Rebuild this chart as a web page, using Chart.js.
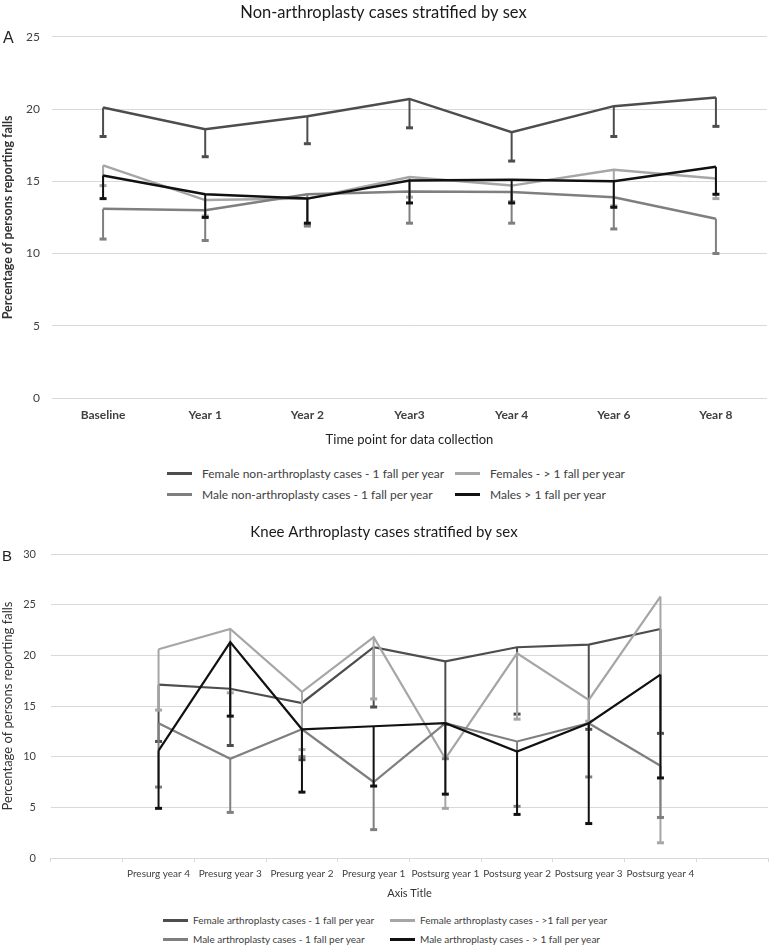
<!DOCTYPE html>
<html>
<head>
<meta charset="utf-8">
<title>Falls stratified by sex</title>
<script src="https://cdn.jsdelivr.net/npm/chart.js@4.4.0/dist/chart.umd.min.js"></script>
<style>
    body { margin: 0; background: #fff; width: 770px; height: 949px; position: relative; overflow: hidden; font-family: Lato, sans-serif; }
    #boxA { position: absolute; left: 0; top: 0; width: 770px; height: 455px; }
    #boxB { position: absolute; left: 0; top: 515px; width: 770px; height: 390px; }
    .panel { position: absolute; font-family: "Liberation Sans", Arial, sans-serif; color: #222; }
    .legend { position: absolute; display: grid; color: #404040; }
    .legend .item { display: flex; align-items: center; white-space: nowrap; }
    .legend .swatch { display: inline-block; width: 25px; height: 3px; }
</style>
</head>
<body>
<div id="boxA"><canvas id="chartA"></canvas></div>
<div id="boxB"><canvas id="chartB"></canvas></div>
<div class="panel" style="left:3px;top:29px;font-size:16px;">A</div>
<div class="panel" style="left:2px;top:547px;font-size:15px;">B</div>
<div id="legendA" class="legend"></div>
<div id="legendB" class="legend"></div>

<script>
// ---- panel A: non-arthroplasty cases ----
const labelsA = ['Baseline', 'Year 1', 'Year 2', 'Year3', 'Year 4', 'Year 6', 'Year 8'];
const femaleOneA = [20.1, 18.6, 19.5, 20.7, 18.4, 20.2, 20.8];
const femaleOneLowA = [18.1, 16.7, 17.6, 18.7, 16.4, 18.1, 18.8];
const femaleMultiA = [16.1, 13.7, 13.8, 15.3, 14.7, 15.8, 15.2];
const femaleMultiLowA = [14.7, 12.6, 12.0, 13.9, 13.6, 13.3, 13.8];
const maleOneA = [13.1, 13.0, 14.1, 14.3, 14.25, 13.9, 12.4];
const maleOneLowA = [11.0, 10.9, 11.9, 12.1, 12.1, 11.7, 10.0];
const maleMultiA = [15.4, 14.1, 13.8, 15.05, 15.1, 15.0, 16.0];
const maleMultiLowA = [13.8, 12.5, 12.1, 13.5, 13.5, 13.2, 14.1];
const seriesNamesA = [
    'Female non-arthroplasty cases - 1 fall per year',
    'Females - > 1 fall per year',
    'Male non-arthroplasty cases - 1 fall per year',
    'Males > 1 fall per year'
];

// ---- panel B: knee arthroplasty cases ----
const labelsB = ['', 'Presurg year 4', 'Presurg year 3', 'Presurg year 2', 'Presurg year 1',
    'Postsurg year 1', 'Postsurg year 2', 'Postsurg year 3', 'Postsurg year 4', ''];
const femaleOneB = [null, 17.1, 16.7, 15.3, 20.8, 19.4, 20.8, 21.05, 22.6, null];
const femaleOneLowB = [null, 11.5, 11.1, 9.7, 14.9, 13.2, 14.2, 12.7, 12.3, null];
const femaleMultiB = [null, 20.6, 22.6, 16.4, 21.8, 9.8, 20.2, 15.6, 25.8, null];
const femaleMultiLowB = [null, 14.6, 16.3, 10.7, 15.7, 4.9, 13.7, 13.5, 1.5, null];
const maleOneB = [null, 13.3, 9.8, 12.7, 7.5, 13.3, 11.5, 13.3, 9.1, null];
const maleOneLowB = [null, 7.0, 4.5, 10.0, 2.8, 9.8, 5.1, 8.0, 4.0, null];
const maleMultiB = [null, 10.6, 21.3, 12.7, 13.0, 13.3, 10.5, 13.3, 18.1, null];
const maleMultiLowB = [null, 4.9, 14.0, 6.5, 7.1, 6.3, 4.3, 3.4, 7.9, null];
const seriesNamesB = [
    'Female arthroplasty cases - 1 fall per year',
    'Female arthroplasty cases - >1 fall per year',
    'Male arthroplasty cases - 1 fall per year',
    'Male arthroplasty cases - > 1 fall per year'
];

const colors = ['#4d4d4d', '#a6a6a6', '#7f7f7f', '#111111'];

// minus-only error bars with a small cap, drawn right after each line
const errorBars = {
    id: 'errorBars',
    afterDatasetDraw(chart, args) {
        const ds = chart.data.datasets[args.index];
        if (!ds.low) return;
        const xs = chart.scales.x, ys = chart.scales.y;
        const ctx = chart.ctx;
        ctx.save();
        ctx.strokeStyle = ds.borderColor;
        ds.data.forEach((v, i) => {
            if (v == null || ds.low[i] == null) return;
            const px = xs.getPixelForValue(i);
            const top = ys.getPixelForValue(v);
            const bottom = ys.getPixelForValue(ds.low[i]);
            ctx.lineWidth = ds.barWidth;
            ctx.beginPath();
            ctx.moveTo(px, top);
            ctx.lineTo(px, bottom);
            ctx.stroke();
            ctx.lineWidth = 3;
            ctx.beginPath();
            ctx.moveTo(px - 3.5, bottom);
            ctx.lineTo(px + 3.5, bottom);
            ctx.stroke();
        });
        ctx.restore();
    }
};

function makeDatasets(names, values, lows, width) {
    return names.map((name, i) => ({
        label: name,
        data: values[i],
        low: lows[i],
        borderColor: colors[i],
        backgroundColor: colors[i],
        borderWidth: width,
        barWidth: 2,
        pointRadius: 0,
        tension: 0,
        order: 3 - i
    }));
}

function buildLegend(id, names, left, top, colWidth, fontSize, gap, rowGap) {
    const el = document.getElementById(id);
    el.style.left = left + 'px';
    el.style.top = top + 'px';
    el.style.gridTemplateColumns = colWidth + 'px auto';
    el.style.rowGap = rowGap + 'px';
    el.style.fontSize = fontSize + 'px';
    el.innerHTML = names.map((n, i) =>
        `<div class="item"><span class="swatch" style="background:${colors[i]};margin-right:${gap}px"></span>${n}</div>`
    ).join('');
}

Chart.defaults.font.family = 'Lato, sans-serif';
Chart.defaults.animation = false;

new Chart(document.getElementById('chartA'), {
    type: 'line',
    data: {
        labels: labelsA,
        datasets: makeDatasets(seriesNamesA,
            [femaleOneA, femaleMultiA, maleOneA, maleMultiA],
            [femaleOneLowA, femaleMultiLowA, maleOneLowA, maleMultiLowA], 2.5)
    },
    options: {
        responsive: true,
        maintainAspectRatio: false,
        layout: { padding: { right: 3 } },
        plugins: {
            legend: { display: false },
            tooltip: { enabled: false },
            title: {
                display: true,
                text: 'Non-arthroplasty cases stratified by sex',
                font: { size: 16.5, weight: 'normal' },
                color: '#1a1a1a',
                padding: { top: 3, bottom: 14 }
            }
        },
        scales: {
            x: {
                offset: true,
                grid: { display: false, drawTicks: false },
                border: { display: false },
                ticks: { font: { size: 12, weight: 'bold' }, color: '#404040', padding: 10 },
                title: {
                    display: true,
                    text: 'Time point for data collection',
                    font: { size: 13 },
                    color: '#222',
                    padding: { top: 10, bottom: 7 }
                },
                afterFit(scale) { scale.height = 57; }
            },
            y: {
                min: 0,
                max: 25,
                ticks: { stepSize: 5, padding: 12, font: { size: 12 }, color: '#404040' },
                grid: { color: '#d9d9d9', drawTicks: false },
                border: { display: false },
                title: {
                    display: true,
                    text: 'Percentage of persons reporting falls',
                    font: { size: 12.5, weight: 'bold' },
                    color: '#333',
                    padding: { top: 0, bottom: 0 }
                },
                afterFit(scale) { scale.width = 52; }
            }
        }
    },
    plugins: [errorBars]
});

new Chart(document.getElementById('chartB'), {
    type: 'line',
    data: {
        labels: labelsB,
        datasets: makeDatasets(seriesNamesB,
            [femaleOneB, femaleMultiB, maleOneB, maleMultiB],
            [femaleOneLowB, femaleMultiLowB, maleOneLowB, maleMultiLowB], 2.2)
    },
    options: {
        responsive: true,
        maintainAspectRatio: false,
        layout: { padding: { right: 2 } },
        plugins: {
            legend: { display: false },
            tooltip: { enabled: false },
            title: {
                display: true,
                text: 'Knee Arthroplasty cases stratified by sex',
                font: { size: 15, weight: 'normal' },
                color: '#1a1a1a',
                padding: { top: 8, bottom: 13 }
            }
        },
        scales: {
            x: {
                offset: true,
                grid: { display: true, drawOnChartArea: false, drawTicks: true, tickLength: 4, offset: true, color: '#d9d9d9' },
                border: { display: false },
                ticks: { font: { size: 10 }, color: '#404040', padding: 6, autoSkip: false, maxRotation: 0 },
                title: {
                    display: true,
                    text: 'Axis Title',
                    font: { size: 11 },
                    color: '#333',
                    padding: { top: 4, bottom: 5 }
                },
                afterFit(scale) { scale.height = 47; }
            },
            y: {
                min: 0,
                max: 30,
                ticks: { stepSize: 5, padding: 15, font: { size: 11 }, color: '#404040' },
                grid: { color: '#d9d9d9', drawTicks: false },
                border: { display: false },
                title: {
                    display: true,
                    text: 'Percentage of persons reporting falls',
                    font: { size: 13 },
                    color: '#333',
                    padding: { top: 0, bottom: 0 }
                },
                afterFit(scale) { scale.width = 51; }
            }
        }
    },
    plugins: [errorBars]
});

buildLegend('legendA', seriesNamesA, 167, 466, 288, 12, 10, 6);
buildLegend('legendB', seriesNamesB, 163, 914, 227, 10, 5, 7);
</script>
</body>
</html>
